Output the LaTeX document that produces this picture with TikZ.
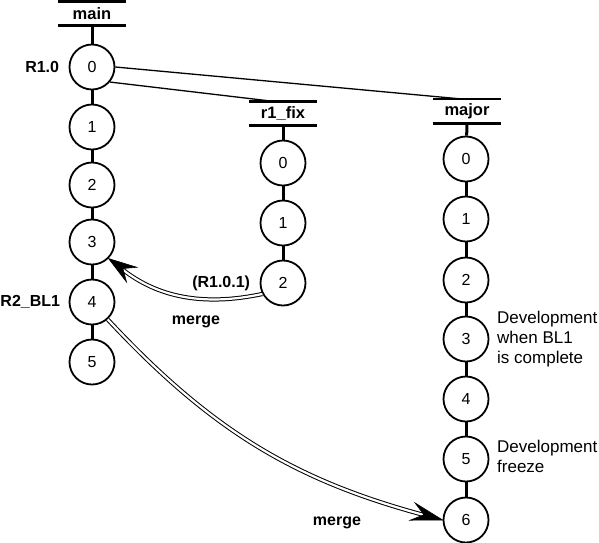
\documentclass[tikz,border=0pt]{standalone}
\usepackage{fontspec}
\setmainfont{Liberation Sans}
\usetikzlibrary{arrows.meta,calc}
\begin{document}
\begin{tikzpicture}[x=1pt,y=-1pt,
  rev/.style={circle,draw,line width=1.8pt,minimum size=45pt,inner sep=0pt,font=\fontsize{16}{18}\selectfont},
  hdr/.style={minimum width=68pt,minimum height=24pt,inner sep=0pt,font=\fontsize{16.5}{18}\selectfont\bfseries},
  bar/.style={line width=2.5pt},
  link/.style={line width=3pt},
  lbl/.style={font=\fontsize{16}{18}\selectfont\bfseries},
  note/.style={align=left,anchor=west,inner sep=0pt,font=\fontsize{17}{20}\selectfont},
  branch/.style={line width=1.3pt},
  tipfill/.style={fill=black,draw=black,line width=0.6pt,line join=miter},
  mergeline/.style={double,line width=1pt,double distance=2.2pt,shorten >=18pt}
]
\useasboundingbox (0,0) rectangle (599,542);

% headers
\node[hdr] (hmain) at (92,13.5) {main};
\node[hdr] (hr1) at (283,113.5) {r1\_fix};
\node[hdr] (hmaj) at (467,111.3) {major};
\foreach \h in {hmain,hr1,hmaj}{
  \draw[bar] (\h.north west) -- (\h.north east);
  \draw[bar] (\h.south west) -- (\h.south east);
}

% main column
\node[rev] (m0) at (92,67) {0};
\node[rev] (m1) at (92,127) {1};
\node[rev] (m2) at (92,185) {2};
\node[rev] (m3) at (92,242) {3};
\node[rev] (m4) at (92,302) {4};
\node[rev] (m5) at (92,362) {5};
\draw[link] (hmain.south) -- (m0);
\draw[link] (m0) -- (m1);
\draw[link] (m1) -- (m2);
\draw[link] (m2) -- (m3);
\draw[link] (m3) -- (m4);
\draw[link] (m4) -- (m5);

% r1_fix column
\node[rev] (r0) at (283,163) {0};
\node[rev] (r1) at (283,223) {1};
\node[rev] (r2) at (283,283) {2};
\draw[link] (hr1.south) -- (r0);
\draw[link] (r0) -- (r1);
\draw[link] (r1) -- (r2);

% major column
\node[rev] (j0) at (466,159) {0};
\node[rev] (j1) at (466,219) {1};
\node[rev] (j2) at (466,280) {2};
\node[rev] (j3) at (466,339) {3};
\node[rev] (j4) at (466,399) {4};
\node[rev] (j5) at (466,459) {5};
\node[rev] (j6) at (466,520) {6};
\draw[link] (hmaj.south) -- (j0);
\draw[link] (j0) -- (j1);
\draw[link] (j1) -- (j2);
\draw[link] (j2) -- (j3);
\draw[link] (j3) -- (j4);
\draw[link] (j4) -- (j5);
\draw[link] (j5) -- (j6);

% branch lines
\coordinate (r1top) at ([xshift=-10pt]hr1.north);
\coordinate (majtop) at ([xshift=-4pt]hmaj.north);
\draw[branch] (m0.east) -- (majtop);
\draw[branch] (m0.-40) -- (r1top);

% labels
\node[lbl,anchor=east] (lr10) at ([xshift=-6pt]m0.west) {R1.0};
\node[lbl,anchor=east] (lbl1) at ([xshift=-5pt]m4.west) {R2\_BL1};
\node[lbl,anchor=east] (lr101) at ([xshift=-6pt]r2.west) {(R1.0.1)};

% merges
\draw[mergeline] (r2.208) to[out=192,in=-38] coordinate[pos=0.84] (b1) (m3.-45);
\coordinate (t1) at (m3.-45);
\fill[tipfill] (t1) -- ($(b1)!9pt!90:(t1)$) -- ($(t1)!0.62!(b1)$) -- ($(b1)!9pt!-90:(t1)$) -- cycle;
\node[lbl] (mg1) at (196,322) {merge};

\draw[mergeline] (m4.-48) to[out=-47,in=165] coordinate[pos=0.93] (b2) (j6.west);
\coordinate (t2) at (j6.west);
\fill[tipfill] (t2) -- ($(b2)!9pt!90:(t2)$) -- ($(t2)!0.62!(b2)$) -- ($(b2)!9pt!-90:(t2)$) -- cycle;
\node[lbl] (mg2) at (337,523) {merge};

% notes
\node[note] (n1) at (497,339) {Development\\when BL1\\is complete};
\node[note] (n2) at (497,456) {Development\\freeze};
\end{tikzpicture}
\end{document}
